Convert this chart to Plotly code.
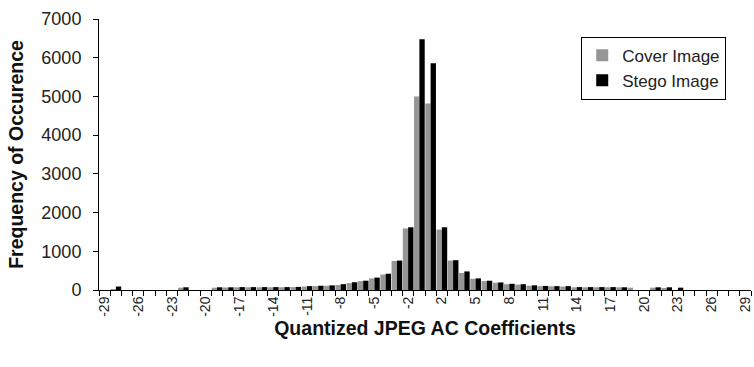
import plotly.graph_objects as go

categories = [str(v) for v in list(range(-29, 0)) + list(range(1, 30))]

cover = [0, 10, 0, 0, 0, 0, 0, 60, 0, 0,
         60, 65, 70, 70, 70, 70, 70, 75, 90, 100,
         110, 130, 180, 230, 300, 400, 750, 1590, 5000,
         4820, 1560, 760, 440, 290, 230, 190, 150, 140, 110,
         100, 95, 90, 70, 70, 70, 70, 70, 60, 0,
         60, 50, 0, 0, 0, 0, 0, 0, 0]

stego = [0, 90, 0, 0, 0, 0, 0, 70, 0, 0,
         70, 70, 75, 75, 75, 75, 75, 80, 100, 110,
         120, 150, 200, 240, 320, 420, 760, 1620, 6480,
         5860, 1620, 770, 480, 300, 240, 195, 160, 150, 120,
         105, 100, 100, 75, 75, 75, 75, 70, 0, 0,
         70, 70, 60, 0, 0, 0, 0, 0, 0]

tick_text = [c if i % 3 == 0 else "" for i, c in enumerate(categories)]

FONT = "Liberation Sans, Arial, sans-serif"

fig = go.Figure()
fig.add_trace(go.Bar(x=categories, y=cover, name="Cover Image",
                     marker=dict(color="#969696", line=dict(width=0))))
fig.add_trace(go.Bar(x=categories, y=stego, name="Stego Image",
                     marker=dict(color="#000000", line=dict(width=0))))

fig.update_layout(
    width=754, height=367,
    margin=dict(l=99, r=3, t=19, b=77),
    paper_bgcolor="white", plot_bgcolor="white",
    barmode="group", bargap=0.05, bargroupgap=0,
    font=dict(family=FONT, size=16, color="#222222"),
    showlegend=True,
    legend=dict(x=0.962, y=0.935, xanchor="right", yanchor="top",
                bordercolor="#000000", borderwidth=1, bgcolor="white",
                font=dict(size=17, color="#222222"),
                itemwidth=30, tracegroupgap=2),
    xaxis=dict(type="category", tickmode="array", tickvals=categories,
               ticktext=tick_text, tickson="boundaries", ticks="outside",
               ticklen=5, tickcolor="#000000", tickangle=-90,
               showline=True, linecolor="#000000", linewidth=1,
               showgrid=False, zeroline=False, automargin=False,
               tickfont=dict(size=14),
               title=dict(text="<b>Quantized JPEG AC Coefficients</b>",
                          font=dict(size=19.5, color="#111111"), standoff=3)),
    yaxis=dict(range=[0, 7000], dtick=1000, ticks="outside", ticklen=5,
               tickcolor="#000000", showline=True, linecolor="#000000",
               linewidth=1, showgrid=False, zeroline=False, automargin=False,
               tickfont=dict(size=18), ticklabelstandoff=8,
               title=dict(text="<b>Frequency of Occurence</b>",
                          font=dict(size=19.5, color="#111111"), standoff=12)),
)

# remove the default page margin so the figure fills the 754x367 window
fig.write_html("out.html",
               config={"displayModeBar": False},
               post_script="document.body.style.margin='0';"
                           "document.body.style.overflow='hidden';")
